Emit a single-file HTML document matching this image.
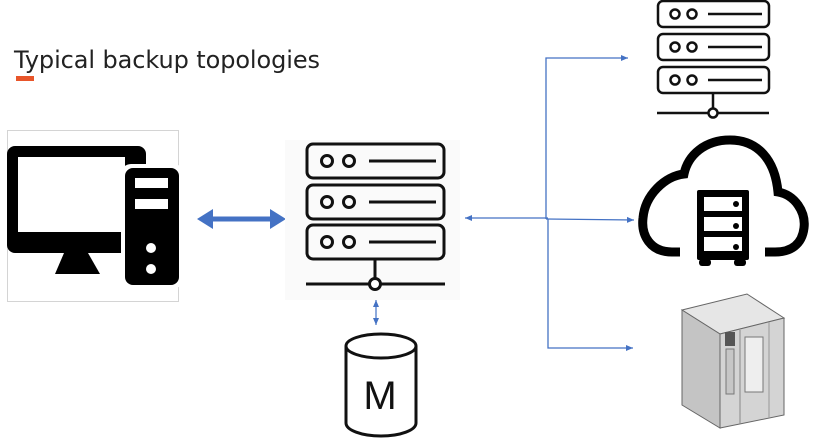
<!DOCTYPE html>
<html><head><meta charset="utf-8"><style>
html,body{margin:0;padding:0;background:#fff;width:837px;height:443px;overflow:hidden}
svg{display:block}
</style></head><body>
<svg width="837" height="443" viewBox="0 0 837 443" xmlns="http://www.w3.org/2000/svg">
<defs>
<marker id="ah" markerWidth="8" markerHeight="8" refX="7" refY="4" orient="auto" markerUnits="userSpaceOnUse"><path d="M0,1 L7,4 L0,7 z" fill="#4472c4"/></marker>
<marker id="ahs" markerWidth="8" markerHeight="8" refX="7" refY="4" orient="auto-start-reverse" markerUnits="userSpaceOnUse"><path d="M0,1 L7,4 L0,7 z" fill="#4472c4"/></marker>
</defs>
<text x="14" y="68" font-family="DejaVu Sans, sans-serif" font-size="24" textLength="306" fill="#222">Typical backup topologies</text>
<rect x="16" y="76" width="18" height="5" fill="#e8552a"/>

<!-- computer -->
<rect x="7.5" y="130.5" width="171" height="171" fill="none" stroke="#aaa" stroke-dasharray="1,1"/>
<rect x="7" y="146" width="139" height="107" rx="8" fill="#000"/>
<rect x="18" y="157" width="107" height="75" fill="#fff"/>
<path d="M64,253 L88,253 L100,274 L55,274 Z" fill="#000"/>
<rect x="121" y="164" width="62" height="125" rx="10" fill="#fff"/>
<rect x="125" y="168" width="54" height="117" rx="8" fill="#000"/>
<rect x="135" y="178" width="33" height="10" fill="#fff"/>
<rect x="135" y="199" width="33" height="10" fill="#fff"/>
<circle cx="151" cy="248" r="5" fill="#fff"/>
<circle cx="151" cy="269" r="5" fill="#fff"/>

<!-- thick arrow -->
<line x1="205" y1="219" x2="277" y2="219" stroke="#4472c4" stroke-width="5"/>
<path d="M197,219 L213,209 L213,229 Z" fill="#4472c4"/>
<path d="M286,219 L270,209 L270,229 Z" fill="#4472c4"/>

<!-- central server -->
<rect x="285" y="140" width="175" height="160" fill="#fafafa"/>
<g fill="none" stroke="#111" stroke-width="3">
<rect x="307" y="144" width="137" height="34" rx="6"/>
<rect x="307" y="185" width="137" height="34" rx="6"/>
<rect x="307" y="225" width="137" height="34" rx="6"/>
<circle cx="327" cy="161" r="5.5"/><circle cx="349" cy="161" r="5.5"/>
<circle cx="327" cy="202" r="5.5"/><circle cx="349" cy="202" r="5.5"/>
<circle cx="327" cy="242" r="5.5"/><circle cx="349" cy="242" r="5.5"/>
<line x1="369" y1="161" x2="436" y2="161"/><line x1="369" y1="202" x2="436" y2="202"/><line x1="369" y1="242" x2="436" y2="242"/>
<line x1="375" y1="259" x2="375" y2="278"/>
<line x1="306" y1="284" x2="369" y2="284"/><line x1="381" y1="284" x2="445" y2="284"/>
<circle cx="375" cy="284" r="5.5" fill="#fff"/>
</g>
<line x1="376" y1="300" x2="376" y2="325" stroke="#4472c4" stroke-width="1.2" marker-start="url(#ahs)" marker-end="url(#ah)"/>

<!-- cylinder M -->
<g fill="#fff" stroke="#111" stroke-width="3">
<path d="M346,346 L346,423 A35,13 0 0 0 416,423 L416,346"/>
<ellipse cx="381" cy="346" rx="35" ry="12"/>
</g>
<text x="380" y="409" text-anchor="middle" font-family="Liberation Sans, sans-serif" font-size="40" fill="#111">M</text>

<!-- connectors -->
<g stroke="#4472c4" stroke-width="1.3" fill="none">
<line x1="548" y1="218" x2="465" y2="218" marker-end="url(#ah)"/>
<polyline points="546,219 546,58 628,58" marker-end="url(#ah)"/>
<line x1="546" y1="219" x2="634" y2="220" marker-end="url(#ah)"/>
<polyline points="548,219 548,348 633,348" marker-end="url(#ah)"/>
</g>

<!-- right server -->
<g fill="none" stroke="#111" stroke-width="2.5">
<rect x="658" y="1" width="111" height="26" rx="5"/>
<rect x="658" y="34" width="111" height="26" rx="5"/>
<rect x="658" y="67" width="111" height="26" rx="5"/>
<circle cx="675" cy="14" r="4.5"/><circle cx="692" cy="14" r="4.5"/>
<circle cx="675" cy="47" r="4.5"/><circle cx="692" cy="47" r="4.5"/>
<circle cx="675" cy="80" r="4.5"/><circle cx="692" cy="80" r="4.5"/>
<line x1="708" y1="14" x2="762" y2="14"/><line x1="708" y1="47" x2="762" y2="47"/><line x1="708" y1="80" x2="762" y2="80"/>
<line x1="713" y1="93" x2="713" y2="108"/>
<line x1="657" y1="113" x2="708" y2="113"/><line x1="718" y1="113" x2="769" y2="113"/>
<circle cx="713" cy="113" r="4.5" fill="#fff"/>
</g>

<!-- cloud -->
<path d="M680,252 L672,252 C650,252 641,235 643,218 C645,195 665,176 684,174 C688,155 705,140 730,140 C758,140 775,160 778,192 C795,195 806,212 804,228 C802,245 790,252 775,252 L765,252" fill="none" stroke="#000" stroke-width="9"/>
<rect x="697" y="190" width="52" height="70" rx="2" fill="#000"/>
<rect x="704" y="197" width="38" height="14" fill="#fff"/>
<rect x="704" y="217" width="38" height="14" fill="#fff"/>
<rect x="704" y="237" width="38" height="14" fill="#fff"/>
<circle cx="736" cy="204" r="3" fill="#000"/><circle cx="736" cy="226" r="3" fill="#000"/><circle cx="736" cy="247" r="3" fill="#000"/>
<rect x="699" y="259" width="12" height="7" rx="3" fill="#000"/><rect x="734" y="259" width="12" height="7" rx="3" fill="#000"/>

<!-- tape library -->
<path d="M682,310 L747,294 L784,318 L720,334 Z" fill="#e6e6e6" stroke="#666" stroke-width="1"/>
<path d="M682,310 L720,334 L720,428 L682,405 Z" fill="#c4c4c4" stroke="#666"/>
<path d="M720,334 L784,318 L784,415 L720,428 Z" fill="#d4d4d4" stroke="#666"/>
<rect x="725" y="332" width="10" height="14" fill="#555"/>
<rect x="726" y="349" width="8" height="45" fill="#c6c6c6" stroke="#777"/>
<rect x="745" y="337" width="18" height="55" fill="#eee" stroke="#777"/>
<line x1="740" y1="330" x2="740" y2="424" stroke="#888"/>
<line x1="769" y1="322" x2="769" y2="418" stroke="#999"/>
</svg>
</body></html>
